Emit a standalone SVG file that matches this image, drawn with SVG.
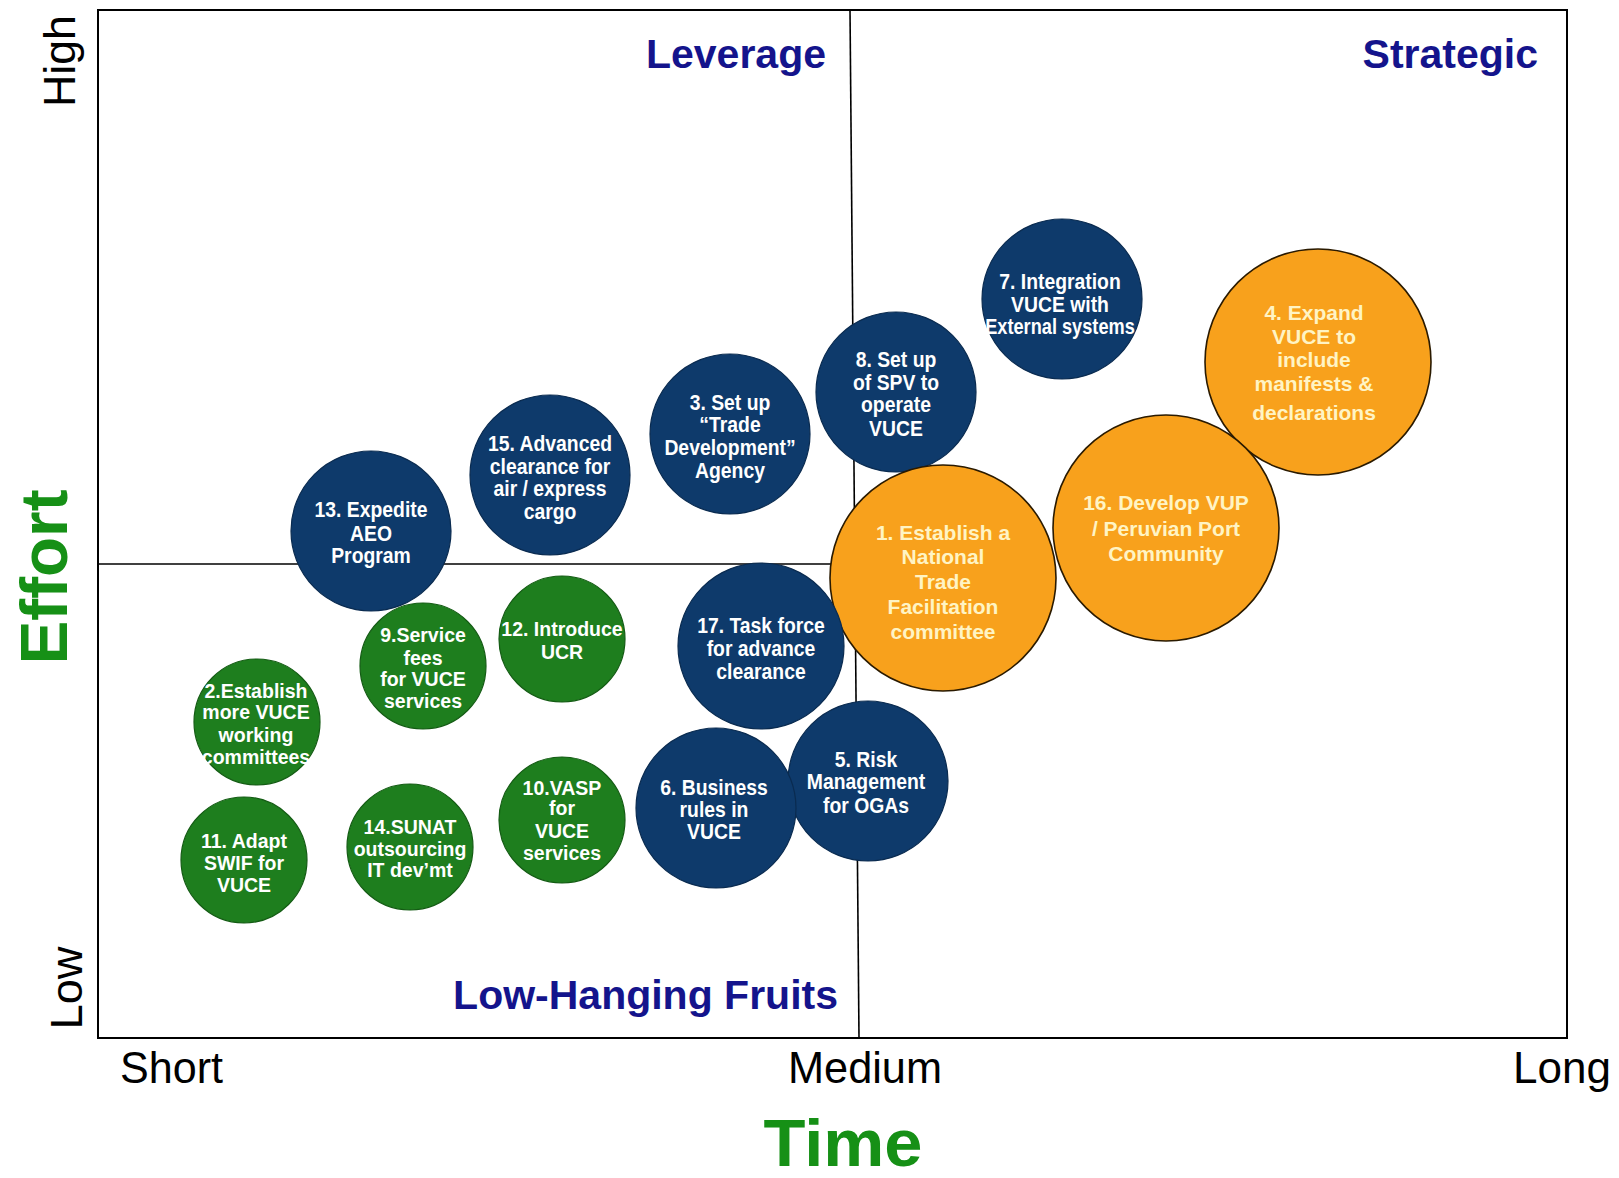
<svg xmlns="http://www.w3.org/2000/svg" width="1619" height="1178" viewBox="0 0 1619 1178">
  <style>
    .frame { fill: #ffffff; stroke: #000000; stroke-width: 2; }
    .axis { stroke: #000000; stroke-width: 1.6; fill: none; }
    .blue circle { fill: #0e3a6b; stroke: #0a2b50; stroke-width: 1.2; }
    .green circle { fill: #1e7e1e; stroke: #145c14; stroke-width: 1.2; }
    .orange circle { fill: #f8a11c; stroke: #2a1a00; stroke-width: 1.6; }
    .blue text { fill: #ffffff; font-family: "Liberation Sans", Arial, sans-serif; font-weight: bold; font-size: 22px; text-anchor: middle; }
    .green text { fill: #ffffff; font-family: "Liberation Sans", Arial, sans-serif; font-weight: bold; font-size: 19.5px; text-anchor: middle; }
    .orange text { fill: #fff4c4; font-family: "Liberation Sans", Arial, sans-serif; font-weight: bold; font-size: 21px; text-anchor: middle; }
    .quad { fill: #14148c; font-family: "Liberation Sans", Arial, sans-serif; font-weight: bold; font-size: 41px; text-anchor: end; }
    .tick { fill: #000000; font-family: "Liberation Sans", Arial, sans-serif; font-size: 44px; }
    .title { fill: #169016; font-family: "Liberation Sans", Arial, sans-serif; font-weight: bold; font-size: 66px; text-anchor: middle; }
  </style>

  <!-- plot area and quadrant dividers -->
  <rect class="frame" x="98" y="10" width="1469" height="1028"/>
  <g id="connectors">
    <line class="axis" x1="850" y1="10" x2="859" y2="1038"/>
    <line class="axis" x1="98" y1="564" x2="853" y2="564"/>
  </g>

  <!-- quadrant names -->
  <text class="quad" x="826" y="68">Leverage</text>
  <text class="quad" x="1538" y="68">Strategic</text>
  <text class="quad" x="838" y="1009">Low-Hanging Fruits</text>

  <!-- axis ticks and titles -->
  <text class="tick" x="120" y="1083" textLength="103" lengthAdjust="spacingAndGlyphs">Short</text>
  <text class="tick" x="788" y="1083" textLength="154" lengthAdjust="spacingAndGlyphs">Medium</text>
  <text class="tick" x="1513" y="1083" textLength="98" lengthAdjust="spacingAndGlyphs">Long</text>
  <text class="tick" transform="translate(75,61) rotate(-90)" text-anchor="middle" font-size="45" textLength="92" lengthAdjust="spacingAndGlyphs">High</text>
  <text class="tick" transform="translate(82,988) rotate(-90)" text-anchor="middle" font-size="45" textLength="83" lengthAdjust="spacingAndGlyphs">Low</text>
  <text class="title" x="843" y="1166" textLength="159" lengthAdjust="spacingAndGlyphs">Time</text>
  <text class="title" transform="translate(67,577) rotate(-90)" textLength="175" lengthAdjust="spacingAndGlyphs">Effort</text>

  <!-- initiatives; navy labels use a horizontally condensed face -->
  <g id="n7" class="blue">
    <circle cx="1062" cy="299" r="80"/>
    <g transform="translate(1060 0) scale(0.88 1)">
      <text x="0" y="289">7. Integration</text>
      <text x="0" y="312">VUCE with</text>
      <text x="0" y="334" textLength="170" lengthAdjust="spacingAndGlyphs">External systems</text>
    </g>
  </g>
  <g id="n4" class="orange">
    <circle cx="1318" cy="362" r="113"/>
    <text x="1314" y="320">4. Expand</text>
    <text x="1314" y="344">VUCE to</text>
    <text x="1314" y="367">include</text>
    <text x="1314" y="391">manifests &amp;</text>
    <text x="1314" y="420">declarations</text>
  </g>
  <g id="n8" class="blue">
    <circle cx="896" cy="392" r="80"/>
    <g transform="translate(896 0) scale(0.88 1)">
      <text x="0" y="367">8. Set up</text>
      <text x="0" y="390">of SPV to</text>
      <text x="0" y="412">operate</text>
      <text x="0" y="436">VUCE</text>
    </g>
  </g>
  <g id="n3" class="blue">
    <circle cx="730" cy="434" r="80"/>
    <g transform="translate(730 0) scale(0.88 1)">
      <text x="0" y="410">3. Set up</text>
      <text x="0" y="432">“Trade</text>
      <text x="0" y="455">Development”</text>
      <text x="0" y="478">Agency</text>
    </g>
  </g>
  <g id="n15" class="blue">
    <circle cx="550" cy="475" r="80"/>
    <g transform="translate(550 0) scale(0.88 1)">
      <text x="0" y="451">15. Advanced</text>
      <text x="0" y="474">clearance for</text>
      <text x="0" y="496">air / express</text>
      <text x="0" y="519">cargo</text>
    </g>
  </g>
  <g id="n13" class="blue">
    <circle cx="371" cy="531" r="80"/>
    <g transform="translate(371 0) scale(0.88 1)">
      <text x="0" y="517">13. Expedite</text>
      <text x="0" y="541">AEO</text>
      <text x="0" y="563">Program</text>
    </g>
  </g>
  <g id="n1" class="orange">
    <circle cx="943" cy="578" r="113"/>
    <text x="943" y="540">1. Establish a</text>
    <text x="943" y="564">National</text>
    <text x="943" y="589">Trade</text>
    <text x="943" y="614">Facilitation</text>
    <text x="943" y="639">committee</text>
  </g>
  <g id="n16" class="orange">
    <circle cx="1166" cy="528" r="113"/>
    <text x="1166" y="510">16. Develop VUP</text>
    <text x="1166" y="536">/ Peruvian Port</text>
    <text x="1166" y="561">Community</text>
  </g>
  <g id="n17" class="blue">
    <circle cx="761" cy="646" r="83"/>
    <g transform="translate(761 0) scale(0.88 1)">
      <text x="0" y="633">17. Task force</text>
      <text x="0" y="656">for advance</text>
      <text x="0" y="679">clearance</text>
    </g>
  </g>
  <g id="n12" class="green">
    <circle cx="562" cy="639" r="63"/>
    <text x="562" y="636">12. Introduce</text>
    <text x="562" y="659">UCR</text>
  </g>
  <g id="n9" class="green">
    <circle cx="423" cy="666" r="63"/>
    <text x="423" y="642">9.Service</text>
    <text x="423" y="665">fees</text>
    <text x="423" y="686">for VUCE</text>
    <text x="423" y="708">services</text>
  </g>
  <g id="n2" class="green">
    <circle cx="257" cy="722" r="63"/>
    <text x="256" y="698">2.Establish</text>
    <text x="256" y="719">more VUCE</text>
    <text x="256" y="742">working</text>
    <text x="256" y="764">committees</text>
  </g>
  <g id="n5" class="blue">
    <circle cx="868" cy="781" r="80"/>
    <g transform="translate(866 0) scale(0.88 1)">
      <text x="0" y="767">5. Risk</text>
      <text x="0" y="789">Management</text>
      <text x="0" y="813">for OGAs</text>
    </g>
  </g>
  <g id="n6" class="blue">
    <circle cx="716" cy="808" r="80"/>
    <g transform="translate(714 0) scale(0.88 1)">
      <text x="0" y="795">6. Business</text>
      <text x="0" y="817">rules in</text>
      <text x="0" y="839">VUCE</text>
    </g>
  </g>
  <g id="n10" class="green">
    <circle cx="562" cy="820" r="63"/>
    <text x="562" y="795">10.VASP</text>
    <text x="562" y="815">for</text>
    <text x="562" y="838">VUCE</text>
    <text x="562" y="860">services</text>
  </g>
  <g id="n14" class="green">
    <circle cx="410" cy="847" r="63"/>
    <text x="410" y="834">14.SUNAT</text>
    <text x="410" y="856">outsourcing</text>
    <text x="410" y="877">IT dev’mt</text>
  </g>
  <g id="n11" class="green">
    <circle cx="244" cy="860" r="63"/>
    <text x="244" y="848">11. Adapt</text>
    <text x="244" y="870">SWIF for</text>
    <text x="244" y="892">VUCE</text>
  </g>
</svg>
